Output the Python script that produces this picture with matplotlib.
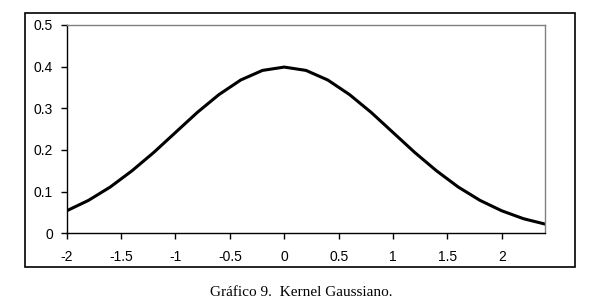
import matplotlib
matplotlib.use("Agg")
import matplotlib.pyplot as plt
from matplotlib.patches import Rectangle

x_vals = [-2.0, -1.8, -1.6, -1.4, -1.2, -1.0, -0.8, -0.6, -0.4, -0.2, 0.0,
          0.2, 0.4, 0.6, 0.8, 1.0, 1.2, 1.4, 1.6, 1.8, 2.0, 2.2, 2.4]
density = [0.054, 0.079, 0.111, 0.150, 0.194, 0.242, 0.290, 0.333, 0.368, 0.391, 0.399,
           0.391, 0.368, 0.333, 0.290, 0.242, 0.194, 0.150, 0.111, 0.079, 0.054, 0.035, 0.022]
x_ticks = [-2, -1.5, -1, -0.5, 0, 0.5, 1, 1.5, 2]
x_tick_labels = ["-2", "-1.5", "-1", "-0.5", "0", "0.5", "1", "1.5", "2"]
y_ticks = [0, 0.1, 0.2, 0.3, 0.4, 0.5]
y_tick_labels = ["0", "0.1", "0.2", "0.3", "0.4", "0.5"]
caption = "Gráfico 9.  Kernel Gaussiano."

W, H = 601, 308
fig = plt.figure(figsize=(W / 100, H / 100), dpi=100)
fig.patch.set_facecolor("white")

# plot area in pixels
left, right, top, bottom = 66.7, 545.3, 25.0, 233.3
ax = fig.add_axes([left / W, 1 - bottom / H, (right - left) / W, (bottom - top) / H])

ax.plot(x_vals, density, color="black", lw=2.2, solid_joinstyle="round")
ax.set_xlim(-2, 2.4)
ax.set_ylim(0, 0.5)
ax.set_xticks(x_ticks)
ax.set_xticklabels(x_tick_labels)
ax.set_yticks(y_ticks)
ax.set_yticklabels(y_tick_labels)
for lab in ax.get_xticklabels() + ax.get_yticklabels():
    lab.set_family(["Liberation Sans", "DejaVu Sans"])
    lab.set_fontsize(10)
ax.tick_params(direction="out", length=4, width=1, color="black", pad=6)
ax.tick_params(axis="x", pad=8)
ax.spines["left"].set_color("black")
ax.spines["bottom"].set_color("black")
ax.spines["top"].set_color("#808080")
ax.spines["right"].set_color("#808080")
for s in ax.spines.values():
    s.set_linewidth(1)

# outer chart frame
fig.patches.append(Rectangle((25 / W, 1 - 267 / H), (575 - 25) / W, (267 - 13) / H,
                             transform=fig.transFigure, fill=False, edgecolor="black",
                             lw=1.2))

fig.text(210 / W, 1 - 293 / H, caption, family=["Liberation Serif", "DejaVu Serif"],
         fontsize=11, ha="left", va="center")

fig.savefig("out.png", dpi=100)
